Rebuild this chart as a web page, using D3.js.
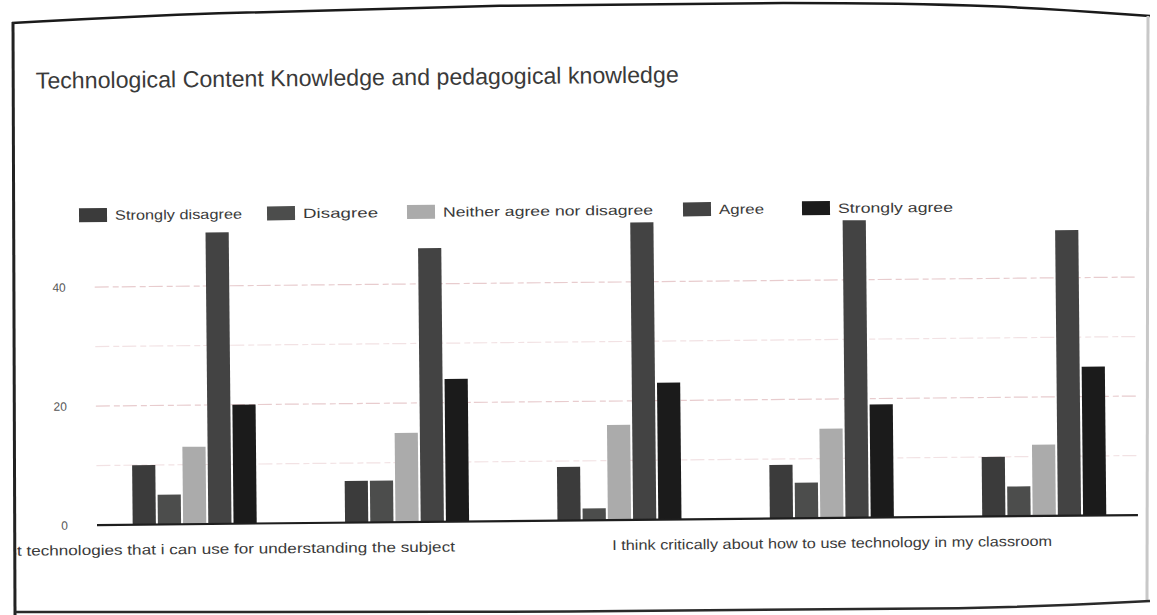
<!DOCTYPE html>
<html>
<head>
<meta charset="utf-8">
<script src="https://cdn.jsdelivr.net/npm/d3@7"></script>
<style>
  html, body { margin: 0; padding: 0; background: #ffffff; }
  svg { display: block; }
  text { font-family: "Liberation Sans", Arial, sans-serif; }
</style>
</head>
<body>
<svg id="chart" width="1157" height="615"></svg>
<script>
// Survey items (only every third label fits under the axis)
const categories = [
  "I can select technologies that i can use for understanding the subject",
  "Item 2",
  "Item 3",
  "I think critically about how to use technology in my classroom",
  "Item 5"
];
const shownLabels = [0, 3];
const labelWidths = [520, 0, 0, 440, 0];

const seriesNames = ["Strongly disagree", "Disagree", "Neither agree nor disagree", "Agree", "Strongly agree"];
const stronglyDisagree = [10, 7, 9, 9, 10];
const disagree         = [5, 7, 2, 6, 5];
const neither          = [13, 15, 16, 15, 12];
const agree            = [49, 46, 50, 50, 48];
const stronglyAgree    = [20, 24, 23, 19, 25];

const yTicks = [0, 20, 40];
const gridValues = [10, 20, 30, 40];

const seriesValues = [stronglyDisagree, disagree, neither, agree, stronglyAgree];
const colors = ["#3b3b3b", "#4c4d4c", "#ababab", "#434343", "#1b1b1b"];

const svg = d3.select("#chart");

// Page frame around the printed chart
const frame = svg.append("g");
const topEdge = [[12, 23], [200, 13], [500, 5], [800, 2], [1000, 5], [1150, 16]];
frame.append("path")
  .attr("d", d3.line().curve(d3.curveBasis)(topEdge))
  .attr("fill", "none").attr("stroke", "#1a1a1a").attr("stroke-width", 2.5);
frame.append("line")
  .attr("x1", 13).attr("y1", 22).attr("x2", 15).attr("y2", 615)
  .attr("stroke", "#222").attr("stroke-width", 3);
frame.append("line")
  .attr("x1", 1148).attr("y1", 16).attr("x2", 1147).attr("y2", 600)
  .attr("stroke", "#c8c8c8").attr("stroke-width", 3);
frame.append("path")
  .attr("d", d3.line().curve(d3.curveBasis)([[15, 612], [600, 612], [1000, 609], [1150, 601]]))
  .attr("fill", "none").attr("stroke", "#2a2a2a").attr("stroke-width", 2.5);

svg.append("clipPath").attr("id", "pageClip")
  .append("rect").attr("x", 16).attr("y", 0).attr("width", 1130).attr("height", 610);

const g = svg.append("g")
  .attr("clip-path", "url(#pageClip)")
  .append("g")
  .attr("transform", "rotate(-0.55, 100, 525)");

// Title
g.append("text")
  .attr("x", 40).attr("y", 88)
  .attr("font-size", 23)
  .attr("fill", "#3a3a3a")
  .attr("textLength", 643).attr("lengthAdjust", "spacingAndGlyphs")
  .text("Technological Content Knowledge and pedagogical knowledge");

// Scales
const x0 = d3.scaleBand()
  .domain(d3.range(categories.length))
  .range([97, 1142])
  .paddingInner(0.416)
  .paddingOuter(0.168);
const x1 = d3.scaleBand()
  .domain(d3.range(seriesNames.length))
  .range([0, x0.bandwidth()])
  .paddingInner(0.08);
const y = d3.scaleLinear().domain([0, 50]).range([525, 227.5]);

// Gridlines
g.append("g").selectAll("line")
  .data(gridValues)
  .join("line")
  .attr("x1", 97).attr("x2", 1138)
  .attr("y1", d => y(d)).attr("y2", d => y(d))
  .attr("stroke", d => d % 20 === 0 ? "#e8ccce" : "#f2e2e4")
  .attr("stroke-width", 1.2)
  .attr("stroke-dasharray", "14,4,6,3");

// Y axis labels
const yAxis = d3.axisLeft(y).tickValues(yTicks).tickSize(0).tickPadding(0);
const yg = g.append("g").attr("transform", "translate(68,0)").call(yAxis);
yg.select(".domain").remove();
yg.selectAll("text").attr("font-size", 12).attr("fill", "#555")
  .attr("font-family", "'Liberation Sans', Arial, sans-serif");

// Bars
const groups = g.append("g").selectAll("g")
  .data(categories.map((c, i) => i))
  .join("g")
  .attr("transform", i => `translate(${x0(i)},0)`);
groups.selectAll("rect")
  .data(i => seriesValues.map((vals, s) => ({ s, v: vals[i] })))
  .join("rect")
  .attr("x", d => x1(d.s))
  .attr("width", x1.bandwidth())
  .attr("y", d => y(d.v))
  .attr("height", d => y(0) - y(d.v))
  .attr("fill", d => colors[d.s]);

// Baseline
g.append("line")
  .attr("x1", 97).attr("x2", 1138)
  .attr("y1", y(0)).attr("y2", y(0))
  .attr("stroke", "#1e1e1e").attr("stroke-width", 2.2);

// Category labels
const xAxis = d3.axisBottom(x0)
  .tickFormat(i => shownLabels.includes(i) ? categories[i] : "")
  .tickSize(0).tickPadding(20);
const xg = g.append("g").attr("transform", `translate(0,${y(0)})`).call(xAxis);
xg.select(".domain").remove();
xg.selectAll("text")
  .attr("font-size", 14).attr("fill", "#3a3a3a")
  .attr("font-family", "'Liberation Sans', Arial, sans-serif")
  .filter(i => shownLabels.includes(i))
  .attr("textLength", i => labelWidths[i])
  .attr("lengthAdjust", "spacingAndGlyphs");

// Legend
const legendX = [82, 270, 410, 686, 805];
const legendW = [127, 75, 210, 45, 115];
const legend = g.append("g").selectAll("g")
  .data(seriesNames)
  .join("g")
  .attr("transform", (d, i) => `translate(${legendX[i]},208)`);
legend.append("rect")
  .attr("width", 28).attr("height", 14)
  .attr("fill", (d, i) => colors[i]);
legend.append("text")
  .attr("x", 36).attr("y", 12)
  .attr("font-size", 13.5)
  .attr("fill", "#3a3a3a")
  .attr("textLength", (d, i) => legendW[i])
  .attr("lengthAdjust", "spacingAndGlyphs")
  .text(d => d);
</script>
</body>
</html>
